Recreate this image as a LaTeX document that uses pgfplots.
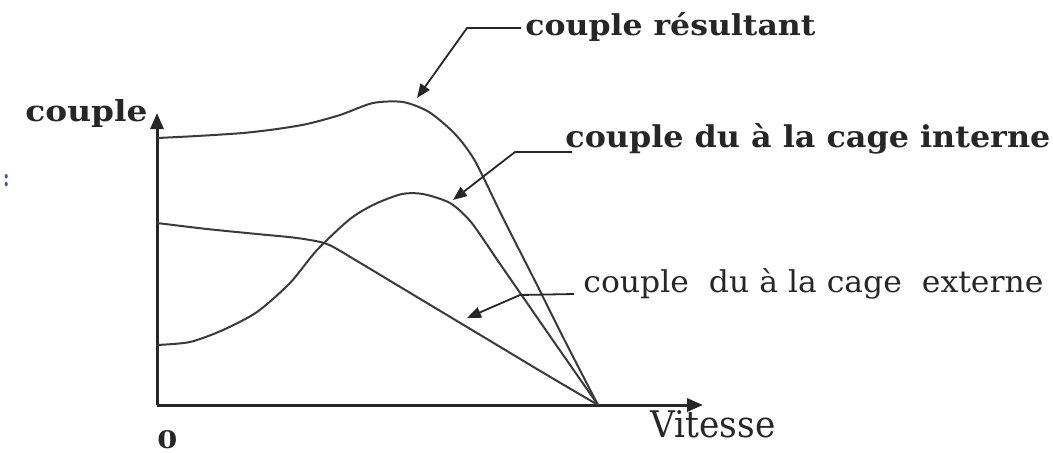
\documentclass[border=0pt]{standalone}
\usepackage{fontspec}
\setmainfont{DejaVu Serif}
\usepackage{pgfplots}
\pgfplotsset{compat=1.18}
\usetikzlibrary{arrows.meta}
\definecolor{ink}{HTML}{262626}
\definecolor{crv}{HTML}{3A3A3A}
\definecolor{dotc}{HTML}{3A5A8A}
\begin{document}
\begin{tikzpicture}
\begin{scope}[x=0.5pt,y=-0.5pt]
\path (0,0) rectangle (1053,452);
\end{scope}
\begin{axis}[at={(78.5pt,-202.5pt)},anchor=south west,scale only axis,
  width=273pt,height=146pt,xmin=0,xmax=546,ymin=0,ymax=292,
  axis lines=left,xtick=\empty,ytick=\empty,
  axis line style={ink,line width=1.5pt,-{Triangle[length=8pt,width=6.5pt]}},
  clip=false]
% couple resultant
\addplot[crv,line width=1pt,smooth,tension=0.45] coordinates {
(0,267) (40,269) (86,272) (120,276) (150,281) (183,290) (216,302) (246,303)
(272,293) (298,271) (318,244) (346,187) (376,128) (408,64) (441,0)};
% couple du a la cage interne
\addplot[crv,line width=1pt,smooth,tension=0.45] coordinates {
(0,60) (33,63) (66,75) (100,93) (133,122) (160,155) (193,186) (218,201)
(245,211) (266,211) (293,202) (314,183) (341,144) (368,105) (395,66) (418,33) (441,0)};
% couple du a la cage externe
\addplot[crv,line width=1pt,smooth,tension=0.45] coordinates {
(0,182) (50,176) (100,171) (140,167) (170,161) (200,144) (240,120) (290,90)
(340,60) (390,30) (441,0)};
\end{axis}
\begin{scope}[x=0.5pt,y=-0.5pt,ink]
\draw[line width=0.9pt,-{Triangle[length=7pt,width=5.5pt]}] (521,28) -- (467,28) -- (417,98);
\draw[line width=0.9pt,-{Triangle[length=7pt,width=5.5pt]}] (572,152) -- (515,152) -- (453,200);
\draw[line width=0.9pt,-{Triangle[length=7pt,width=5.5pt]}] (574,294) -- (520,295) -- (467,318);
\node[anchor=base west,inner sep=0] at (25,121) {\resizebox{61pt}{11pt}{\bfseries couple}};
\node[anchor=base west,inner sep=0] at (525,35) {\resizebox{145pt}{11.5pt}{\bfseries couple résultant}};
\node[anchor=base west,inner sep=0] at (565,147) {\resizebox{242.5pt}{12pt}{\bfseries couple du à la cage interne}};
\node[anchor=base west,inner sep=0] at (583,292) {\resizebox{230pt}{12pt}{couple\ \ du à la cage\ \ externe}};
\node[anchor=base west,inner sep=0] at (650,437) {\resizebox{62.5pt}{13.5pt}{Vitesse}};
\node[anchor=base west,inner sep=0] at (157,448) {\resizebox{10pt}{9pt}{\bfseries 0}};
\node[anchor=base west,inner sep=0,text=dotc] at (3,186) {\resizebox{3pt}{6pt}{\bfseries :}};
\end{scope}
\end{tikzpicture}
\end{document}
